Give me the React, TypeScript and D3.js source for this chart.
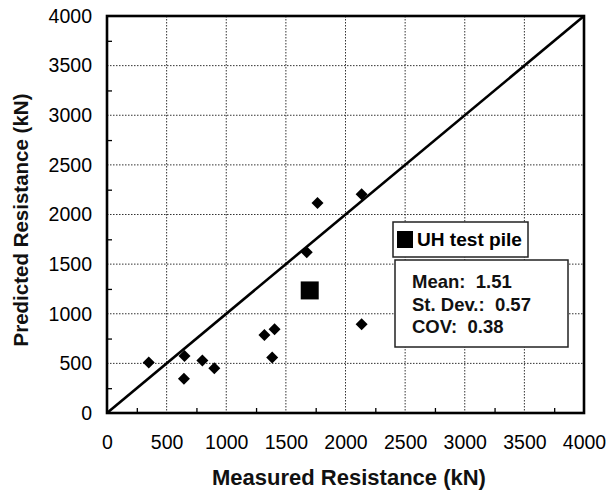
import React, { useEffect, useRef } from "react";
import * as d3 from "d3";

// piles from the database (kN)
const measured = [350, 650, 645, 800, 900, 1320, 1405, 1385, 1675, 1765, 2135, 2135];
const predicted = [510, 575, 345, 530, 450, 785, 845, 560, 1620, 2115, 2205, 895];

// the UH test pile
const uhMeasured = [1700];
const uhPredicted = [1235];

const majorTicks = [0, 500, 1000, 1500, 2000, 2500, 3000, 3500, 4000];
const minorTicks = [250, 750, 1250, 1750, 2250, 2750, 3250, 3750];
const statsLines = ["Mean:  1.51", "St. Dev.:  0.57", "COV:  0.38"];
const legendLabel = "UH test pile";

const FONT = "'Liberation Sans', Arial, sans-serif";

export default function App() {
  const ref = useRef<SVGSVGElement>(null);

  useEffect(() => {
    const svg = d3.select(ref.current);
    svg.selectAll("*").remove();

    const width = 608;
    const height = 492;
    const margin = { top: 16, right: 24, bottom: 79, left: 107 };
    const innerW = width - margin.left - margin.right;
    const innerH = height - margin.top - margin.bottom;

    const x = d3.scaleLinear().domain([0, 4000]).range([0, innerW]);
    const y = d3.scaleLinear().domain([0, 4000]).range([innerH, 0]);

    svg.attr("width", width).attr("height", height).style("background", "#fff");

    const g = svg.append("g").attr("transform", `translate(${margin.left},${margin.top})`);

    // dotted grid
    const inner = majorTicks.filter((t) => t > 0 && t < 4000);
    g.selectAll("line.gx")
      .data(inner)
      .enter()
      .append("line")
      .attr("x1", (d) => x(d))
      .attr("x2", (d) => x(d))
      .attr("y1", 0)
      .attr("y2", innerH)
      .attr("stroke", "#333")
      .attr("stroke-width", 1)
      .attr("stroke-dasharray", "1.5,1.5");
    g.selectAll("line.gy")
      .data(inner)
      .enter()
      .append("line")
      .attr("y1", (d) => y(d))
      .attr("y2", (d) => y(d))
      .attr("x1", 0)
      .attr("x2", innerW)
      .attr("stroke", "#333")
      .attr("stroke-width", 1)
      .attr("stroke-dasharray", "1.5,1.5");

    // minor ticks, pointing inwards
    const minorLeft = g
      .append("g")
      .call(d3.axisLeft(y).tickValues(minorTicks).tickSize(-5).tickFormat(() => ""));
    const minorBottom = g
      .append("g")
      .attr("transform", `translate(0,${innerH})`)
      .call(d3.axisBottom(x).tickValues(minorTicks).tickSize(-5).tickFormat(() => ""));
    [minorLeft, minorBottom].forEach((a) => {
      a.select(".domain").remove();
      a.selectAll("line").attr("stroke", "#000").attr("stroke-width", 1.3);
    });

    // tick labels
    const yAxis = g
      .append("g")
      .call(d3.axisLeft(y).tickValues(majorTicks).tickSize(0).tickPadding(15).tickFormat(d3.format("d")));
    const xAxis = g
      .append("g")
      .attr("transform", `translate(0,${innerH})`)
      .call(d3.axisBottom(x).tickValues(majorTicks).tickSize(0).tickPadding(22).tickFormat(d3.format("d")));
    [yAxis, xAxis].forEach((a) => {
      a.select(".domain").remove();
      a.selectAll("text").attr("font-family", FONT).attr("font-size", 19.5).attr("fill", "#000");
    });

    // 1:1 line
    g.append("line")
      .attr("x1", x(0))
      .attr("y1", y(0))
      .attr("x2", x(4000))
      .attr("y2", y(4000))
      .attr("stroke", "#000")
      .attr("stroke-width", 2.6);

    // frame
    g.append("rect")
      .attr("x", 0)
      .attr("y", 0)
      .attr("width", innerW)
      .attr("height", innerH)
      .attr("fill", "none")
      .attr("stroke", "#000")
      .attr("stroke-width", 2.6);

    // database piles: diamonds
    const diamond = d3.symbol().type(d3.symbolSquare).size(72);
    g.selectAll("path.pt")
      .data(measured.map((m, i) => [m, predicted[i]]))
      .enter()
      .append("path")
      .attr("d", diamond as any)
      .attr("transform", (d) => `translate(${x(d[0])},${y(d[1])}) rotate(45)`)
      .attr("fill", "#000");

    // UH test pile: big square
    const square = d3.symbol().type(d3.symbolSquare).size(324);
    g.selectAll("path.uh")
      .data(uhMeasured.map((m, i) => [m, uhPredicted[i]]))
      .enter()
      .append("path")
      .attr("d", square as any)
      .attr("transform", (d) => `translate(${x(d[0])},${y(d[1])})`)
      .attr("fill", "#000");

    // legend box
    svg
      .append("rect")
      .attr("x", 393)
      .attr("y", 222)
      .attr("width", 135)
      .attr("height", 35)
      .attr("fill", "#fff")
      .attr("stroke", "#222")
      .attr("stroke-width", 1.5);
    svg.append("rect").attr("x", 397).attr("y", 231).attr("width", 16).attr("height", 17).attr("fill", "#000");
    svg
      .append("text")
      .attr("x", 417)
      .attr("y", 246)
      .attr("font-family", FONT)
      .attr("font-weight", "bold")
      .attr("font-size", 17.5)
      .attr("textLength", 105)
      .attr("lengthAdjust", "spacingAndGlyphs")
      .text(legendLabel);

    // stats box
    svg
      .append("rect")
      .attr("x", 395)
      .attr("y", 260)
      .attr("width", 173)
      .attr("height", 87)
      .attr("fill", "#fff")
      .attr("stroke", "#222")
      .attr("stroke-width", 1.5);
    svg
      .selectAll("text.stat")
      .data(statsLines)
      .enter()
      .append("text")
      .attr("x", 412)
      .attr("y", (_, i) => 288 + i * 22.5)
      .attr("font-family", FONT)
      .attr("font-weight", "bold")
      .attr("font-size", 18.5)
      .attr("fill", "#111")
      .style("white-space", "pre")
      .text((d) => d);

    // axis titles
    svg
      .append("text")
      .attr("x", 349)
      .attr("y", 485)
      .attr("text-anchor", "middle")
      .attr("font-family", FONT)
      .attr("font-weight", "bold")
      .attr("font-size", 22)
      .attr("fill", "#111")
      .text("Measured Resistance (kN)");
    svg
      .append("text")
      .attr("transform", "translate(28,220) rotate(-90)")
      .attr("text-anchor", "middle")
      .attr("font-family", FONT)
      .attr("font-weight", "bold")
      .attr("font-size", 20.5)
      .attr("fill", "#111")
      .text("Predicted Resistance (kN)");
  }, []);

  return <svg ref={ref} style={{ position: "absolute", left: 0, top: 0 }} />;
}
